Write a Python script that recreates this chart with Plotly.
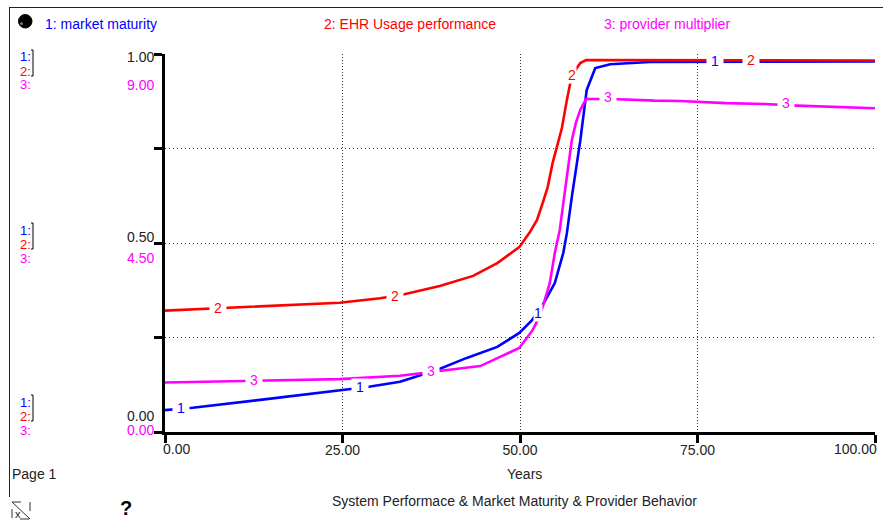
import plotly.graph_objects as go

W, H = 883, 520
# plot area in page pixels
L, R, T, B = 165, 875, 54, 432

years_1 = [0, 3.9, 13.4, 24.6, 28.5, 33.1, 38.3, 42.5, 46.8, 49.9, 51.7, 53.2, 54.9, 56.1, 56.6, 57.3, 58, 58.5, 59.4, 60.6, 62.7, 68.3, 100]
market_maturity = [0.058, 0.064, 0.085, 0.111, 0.119, 0.133, 0.164, 0.196, 0.225, 0.262, 0.296, 0.336, 0.394, 0.474, 0.526, 0.622, 0.712, 0.772, 0.905, 0.963, 0.973, 0.979, 0.98]

years_2 = [0, 11.7, 19.4, 24.6, 30.3, 33.1, 38.7, 43.4, 46.8, 49.9, 51.4, 52.4, 53.2, 53.9, 54.6, 55.4, 55.9, 56.6, 57.3, 58.5, 59.3, 100]
ehr_usage = [0.321, 0.331, 0.336, 0.342, 0.354, 0.362, 0.386, 0.413, 0.447, 0.489, 0.529, 0.561, 0.606, 0.648, 0.712, 0.772, 0.804, 0.878, 0.944, 0.976, 0.984, 0.983]

years_3 = [0, 17.6, 24.6, 33.1, 38.3, 44.4, 47.2, 49.9, 51.8, 52.5, 53.2, 54.2, 54.9, 55.6, 56.1, 56.8, 57.3, 57.9, 58.5, 59.3, 63, 69, 72.5, 79, 84.5, 89, 94.6, 100]
provider_mult = [1.18, 1.24, 1.26, 1.34, 1.44, 1.57, 1.79, 2.0, 2.43, 2.67, 2.98, 3.55, 4.26, 4.81, 5.45, 6.31, 6.95, 7.38, 7.67, 7.93, 7.93, 7.89, 7.88, 7.83, 7.81, 7.77, 7.74, 7.71]

# numbered markers on the curves: x in years, y in that curve's own units
label_x_1 = [2.3, 27.5, 52.6, 77.4]
label_y_1 = [0.063, 0.119, 0.315, 0.982]
label_x_2 = [7.5, 32.4, 57.3, 82.5]
label_y_2 = [0.328, 0.361, 0.945, 0.985]
label_x_3 = [12.5, 37.5, 62.4, 87.5]
label_y_3 = [1.24, 1.45, 7.98, 7.83]

BLUE = "#0000ff"
RED = "#ff0000"
MAGENTA = "#ff00ff"
FONT = "Liberation Sans, Arial, sans-serif"


def px(x):
    return (x - L) / (R - L)


def py(y):
    return (B - y) / (B - T)


fig = go.Figure()
fig.add_trace(go.Scatter(x=years_1, y=market_maturity, mode="lines", line=dict(color=BLUE, width=2.6), yaxis="y"))
fig.add_trace(go.Scatter(x=years_2, y=ehr_usage, mode="lines", line=dict(color=RED, width=2.6), yaxis="y"))
fig.add_trace(go.Scatter(x=years_3, y=provider_mult, mode="lines", line=dict(color=MAGENTA, width=2.6), yaxis="y2"))

fig.update_layout(
    width=W,
    height=H,
    showlegend=False,
    paper_bgcolor="white",
    plot_bgcolor="white",
    margin=dict(l=L, r=W - R, t=T, b=H - B, pad=0),
    font=dict(family=FONT, size=14, color="#222222"),
    xaxis=dict(
        range=[0, 100],
        tickvals=[0, 25, 50, 75, 100],
        # the first and last labels are off-centre from their ticks, so they are placed by hand below
        ticktext=["", "25.00", "50.00", "75.00", ""],
        showgrid=True,
        griddash="1px,2px",
        gridcolor="#333333",
        gridwidth=1,
        ticks="outside",
        ticklen=8,
        tickwidth=3,
        tickcolor="black",
        ticklabelstandoff=-5,
        showline=True,
        linecolor="black",
        linewidth=3,
        zeroline=False,
        tickfont=dict(size=14),
    ),
    yaxis=dict(
        range=[0, 1],
        tickvals=[0, 0.25, 0.5, 0.75, 1],
        ticktext=["", "", "", "", ""],
        showgrid=True,
        griddash="1px,3px",
        gridcolor="#333333",
        gridwidth=1,
        ticks="outside",
        ticklen=8,
        tickwidth=3,
        tickcolor="black",
        showline=True,
        linecolor="black",
        linewidth=3,
        zeroline=False,
    ),
    yaxis2=dict(range=[0, 9], overlaying="y", side="left", showgrid=False, showticklabels=False, showline=False, zeroline=False, ticks=""),
)


def page_text(x, y, text, color="#222222", size=14, anchor="left", bold=False):
    if bold:
        text = "<b>" + text + "</b>"
    fig.add_annotation(xref="paper", yref="paper", x=px(x), y=py(y), text=text, showarrow=False,
                       xanchor=anchor, yanchor="middle", font=dict(color=color, size=size, family=FONT), borderpad=0)


def curve_labels(xs, ys, text, color, yref, tight=()):
    # labels on the steep part get no side padding, it would cover the next curve
    for x, y in zip(xs, ys):
        label = text if x in tight else "&nbsp;" + text + "&nbsp;"
        fig.add_annotation(x=x, y=y, xref="x", yref=yref, text=label, showarrow=False, bgcolor="white",
                           font=dict(color=color, size=14, family=FONT), borderpad=0)


curve_labels(label_x_1, label_y_1, "1", BLUE, "y", tight=(52.6,))
curve_labels(label_x_2, label_y_2, "2", RED, "y", tight=(57.3,))
curve_labels(label_x_3, label_y_3, "3", MAGENTA, "y2")

# header
page_text(44, 24, "1: market maturity", BLUE)
page_text(323, 24, "2: EHR Usage performance", RED)
page_text(603, 24, "3: provider multiplier", MAGENTA)

# left scale keys
for y0 in [57, 230, 402]:
    page_text(19, y0, "1:", BLUE, size=13)
    page_text(19, y0 + 14, "2:", RED, size=13)
    page_text(19, y0 + 28, "3:", MAGENTA, size=13)
    fig.add_shape(type="path", xref="paper", yref="paper",
                  path="M %f %f L %f %f L %f %f L %f %f" % (px(31), py(y0 - 7), px(33), py(y0 - 7), px(33), py(y0 + 19), px(31), py(y0 + 19)),
                  line=dict(color="black", width=1))

# scale values
page_text(155, 57, "1.00", anchor="right")
page_text(155, 85, "9.00", MAGENTA, anchor="right")
page_text(155, 237, "0.50", anchor="right")
page_text(155, 258, "4.50", MAGENTA, anchor="right")
page_text(155, 416, "0.00", anchor="right")
page_text(155, 430, "0.00", MAGENTA, anchor="right")
page_text(162, 449, "0.00")
page_text(878, 449, "100.00", anchor="right")

# footer
page_text(11, 474, "Page 1")
page_text(524, 474, "Years", anchor="center")
page_text(514, 501, "System Performace &amp; Market Maturity &amp; Provider Behavior", anchor="center")
page_text(126, 508, "?", "black", size=20, anchor="center", bold=True)

# window frame, ball and page icon
for x0, y0, x1, y1 in [(9, 7.5, 883, 7.5), (9.5, 7, 9.5, 497)]:
    fig.add_shape(type="line", xref="paper", yref="paper", x0=px(x0), y0=py(y0), x1=px(x1), y1=py(y1), line=dict(color="#222222", width=1))
fig.add_shape(type="circle", xref="paper", yref="paper", x0=px(18.5), y0=py(14.5), x1=px(32), y1=py(28), fillcolor="black", line=dict(color="black", width=1))
fig.add_shape(type="circle", xref="paper", yref="paper", x0=px(20), y0=py(22), x1=px(23), y1=py(25), fillcolor="#777777", line=dict(width=0))
fig.add_shape(type="rect", xref="paper", yref="paper", x0=px(12), y0=py(502), x1=px(30), y1=py(519), line=dict(color="#333333", width=1, dash="dash"))
fig.add_shape(type="line", xref="paper", yref="paper", x0=px(12), y0=py(502), x1=px(30), y1=py(519), line=dict(color="#333333", width=1))
page_text(18, 514, "x", size=11, anchor="center")

# the browser's default body margin would shift the whole figure by 8px
fig.write_html("out.html", config={"displayModeBar": False}, post_script="document.body.style.margin='0';")
